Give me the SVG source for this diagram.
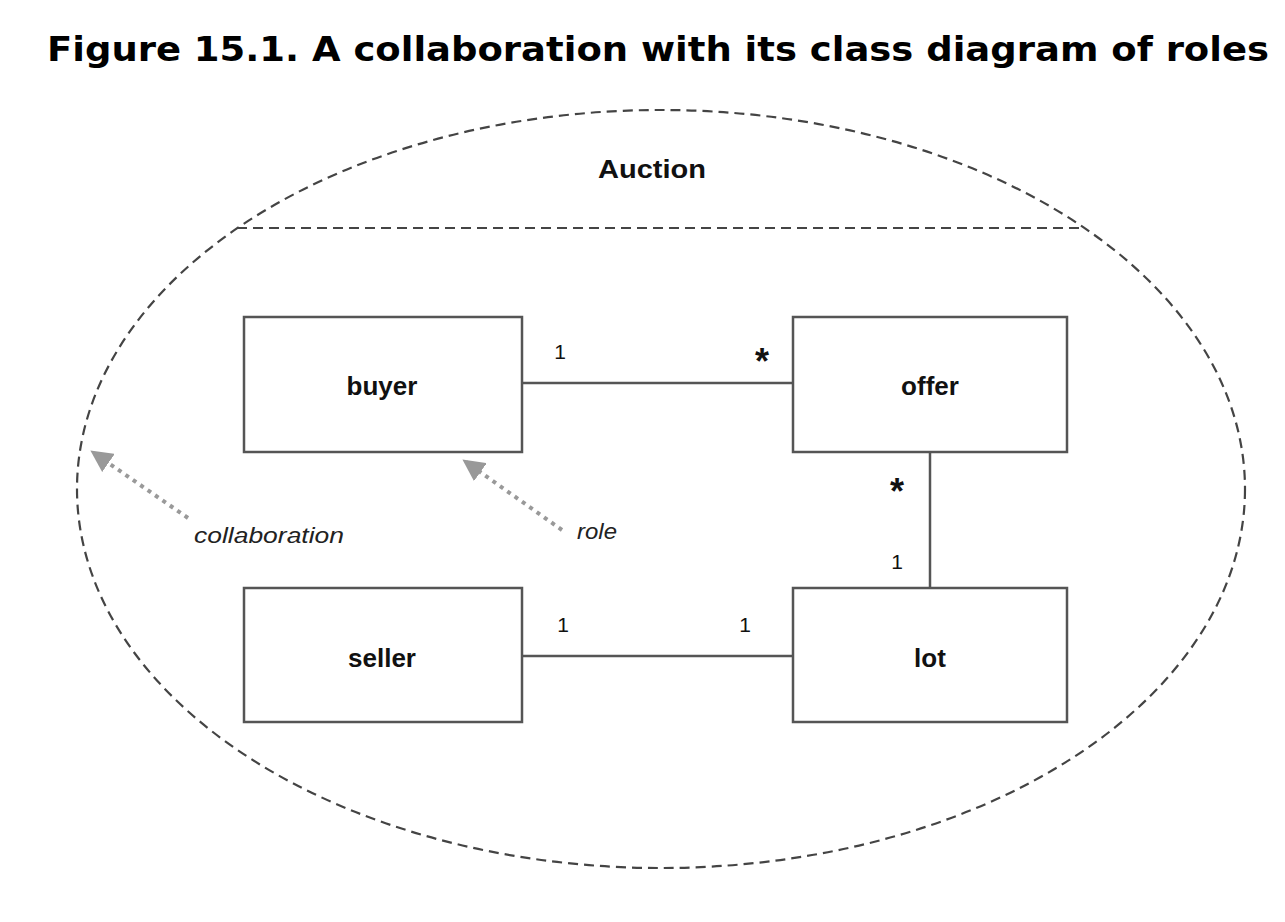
<svg xmlns="http://www.w3.org/2000/svg" width="1285" height="922" viewBox="0 0 1285 922">
<style>
.box{fill:#fff;stroke:#555;stroke-width:2.5}
.lbl{font-family:"Liberation Sans",Arial,sans-serif;font-weight:bold;font-size:26px;fill:#111;text-anchor:middle}
.mul{font-family:"Liberation Sans",Arial,sans-serif;font-size:21px;fill:#111;text-anchor:middle}
.star{font-family:"Liberation Sans",Arial,sans-serif;font-weight:bold;font-size:36px;fill:#111;text-anchor:middle}
.note{font-family:"Liberation Sans",Arial,sans-serif;font-style:italic;font-size:22px;fill:#222}
.assoc{stroke:#555;stroke-width:2.5;fill:none}
.dash{stroke:#444;stroke-width:2.2;fill:none;stroke-dasharray:10,6}
.ptr{stroke:#999;stroke-width:4;fill:none;stroke-dasharray:4,5}
</style>
<defs>
<marker id="ah" viewBox="0 0 10 10" refX="8" refY="5" markerWidth="5.5" markerHeight="5.5" orient="auto" markerUnits="strokeWidth">
<path d="M0,0 L10,5 L0,10 z" fill="#999"/>
</marker>
</defs>
<text x="658" y="61" text-anchor="middle" font-family="'DejaVu Sans',Verdana,sans-serif" font-weight="bold" font-size="34" fill="#000" textLength="1222" lengthAdjust="spacingAndGlyphs">Figure 15.1. A collaboration with its class diagram of roles</text>
<g id="collaboration">
<ellipse cx="661" cy="489" rx="584" ry="379" class="dash"/>
<line x1="237" y1="228" x2="1082" y2="228" class="dash"/>
<text x="652" y="178" class="lbl" textLength="108" lengthAdjust="spacingAndGlyphs">Auction</text>
</g>
<g id="connectors">
<line x1="522" y1="383" x2="793" y2="383" class="assoc"/>
<line x1="522" y1="656" x2="793" y2="656" class="assoc"/>
<line x1="930" y1="452" x2="930" y2="588" class="assoc"/>
<text x="560" y="359" class="mul">1</text>
<text x="762" y="374" class="star">*</text>
<text x="897" y="504" class="star">*</text>
<text x="897" y="569" class="mul">1</text>
<text x="563" y="632" class="mul">1</text>
<text x="745" y="632" class="mul">1</text>
<line x1="188" y1="518" x2="94" y2="453" class="ptr" marker-end="url(#ah)"/>
<line x1="562" y1="530" x2="466" y2="462" class="ptr" marker-end="url(#ah)"/>
</g>
<g id="buyer"><rect x="244" y="317" width="278" height="135" class="box"/><text x="382" y="395" class="lbl">buyer</text></g>
<g id="offer"><rect x="793" y="317" width="274" height="135" class="box"/><text x="930" y="395" class="lbl">offer</text></g>
<g id="seller"><rect x="244" y="588" width="278" height="134" class="box"/><text x="382" y="667" class="lbl">seller</text></g>
<g id="lot"><rect x="793" y="588" width="274" height="134" class="box"/><text x="930" y="667" class="lbl">lot</text></g>
<g id="notes">
<text x="194" y="543" class="note" textLength="150" lengthAdjust="spacingAndGlyphs">collaboration</text>
<text x="577" y="539" class="note" textLength="40" lengthAdjust="spacingAndGlyphs">role</text>
</g>
</svg>
